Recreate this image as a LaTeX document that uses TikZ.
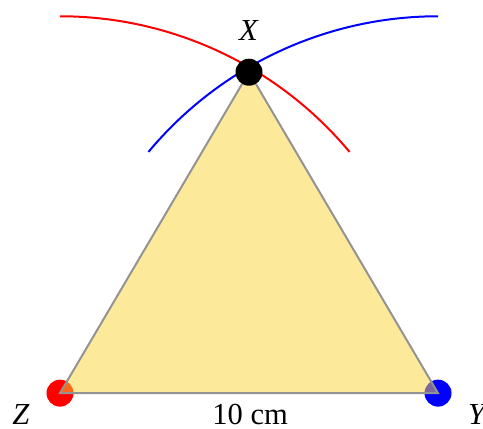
\documentclass[tikz,border=0pt]{standalone}
\usepackage{fontspec}
\setmainfont{Liberation Serif}
\begin{document}
\begin{tikzpicture}[x=0.5cm, y=0.5cm, font=\fontsize{11.5}{14}\selectfont]
	\useasboundingbox (-1.587,-0.926) rectangle (11.19,10.40);
	% 1. vertices
	\coordinate (Z) at (0,0);
	\coordinate (Y) at (10,0);
	\coordinate (X) at (5,8.49);
	% 2. end dots below the triangle
	\fill[red] (Z) circle (0.357);
	\fill[blue] (Y) circle (0.357);
	% 3. triangle
	\filldraw[fill={rgb,255:red,251;green,211;blue,53}, fill opacity=0.5, draw=gray!85, line width=0.75pt] (Z) -- (Y) -- (X) -- cycle;
	% 4. compass arcs
	\draw[red, line width=0.75pt] ([shift={(90:9.97)}]Z) arc[start angle=90, end angle=39.8, radius=9.97];
	\draw[blue, line width=0.75pt] ([shift={(90:9.97)}]Y) arc[start angle=90, end angle=140.2, radius=9.97];
	% 5. top dot and labels
	\fill[black] (X) circle (0.357);
	\node (lX) at (5.0,9.6) {\textit{X}};
	\node (lZ) at (-1.03,-0.56) {\textit{Z}};
	\node (lY) at (11.06,-0.56) {\textit{Y}};
	\node (lbase) at (5.03,-0.56) {10 cm};
\end{tikzpicture}
\end{document}
